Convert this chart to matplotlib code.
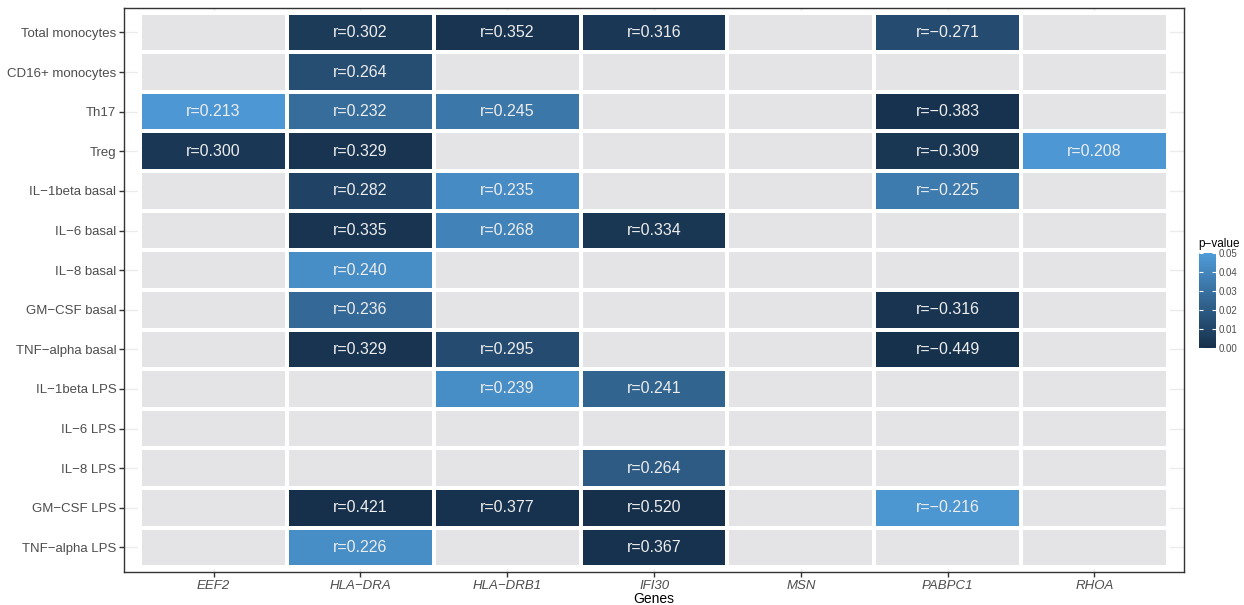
import numpy as np
import matplotlib.pyplot as plt
from matplotlib.colors import LinearSegmentedColormap

plt.rcParams['font.family'] = ['Liberation Sans', 'DejaVu Sans']

genes = ["EEF2", "HLA-DRA", "HLA-DRB1", "IFI30", "MSN", "PABPC1", "RHOA"]
cells = ["Total monocytes", "CD16+ monocytes", "Th17", "Treg", "IL-1beta basal",
         "IL-6 basal", "IL-8 basal", "GM-CSF basal", "TNF-alpha basal",
         "IL-1beta LPS", "IL-6 LPS", "IL-8 LPS", "GM-CSF LPS", "TNF-alpha LPS"]

N = np.nan
# correlation coefficients (rows = cells, cols = genes), nan = not significant
r_values = np.array([
    [N, 0.302, 0.352, 0.316, N, -0.271, N],
    [N, 0.264, N, N, N, N, N],
    [0.213, 0.232, 0.245, N, N, -0.383, N],
    [0.300, 0.329, N, N, N, -0.309, 0.208],
    [N, 0.282, 0.235, N, N, -0.225, N],
    [N, 0.335, 0.268, 0.334, N, N, N],
    [N, 0.240, N, N, N, N, N],
    [N, 0.236, N, N, N, -0.316, N],
    [N, 0.329, 0.295, N, N, -0.449, N],
    [N, N, 0.239, 0.241, N, N, N],
    [N, N, N, N, N, N, N],
    [N, N, N, 0.264, N, N, N],
    [N, 0.421, 0.377, 0.520, N, -0.216, N],
    [N, 0.226, N, 0.367, N, N, N],
])

# p-values estimated from the fill colour
p_values = np.array([
    [N, 0.005, 0.002, 0.004, N, 0.013, N],
    [N, 0.014, N, N, N, N, N],
    [0.048, 0.028, 0.033, N, N, 0.001, N],
    [0.004, 0.002, N, N, N, 0.003, 0.048],
    [N, 0.009, 0.042, N, N, 0.034, N],
    [N, 0.002, 0.038, 0.003, N, N, N],
    [N, 0.043, N, N, N, N, N],
    [N, 0.026, N, N, N, 0.002, N],
    [N, 0.002, 0.013, N, N, 0.0005, N],
    [N, N, 0.043, 0.024, N, N, N],
    [N, N, N, N, N, N, N],
    [N, N, N, 0.020, N, N, N],
    [N, 0.0003, 0.001, 0.0001, N, 0.047, N],
    [N, 0.043, N, 0.001, N, N, N],
])

cmap = LinearSegmentedColormap.from_list("gg", ["#16304B", "#4F9CDA"])
cmap.set_bad("#E4E4E6")

fig = plt.figure(figsize=(12.44, 6.05), dpi=100)
ax = fig.add_axes([0.0997, 0.0545, 0.8521, 0.9325])

x = np.arange(len(genes) + 1) + 0.5
y = np.arange(len(cells) + 1) + 0.5
mesh = ax.pcolormesh(x, y, np.ma.masked_invalid(p_values), cmap=cmap, vmin=0, vmax=0.05,
                     edgecolors="white", linewidth=1.6, zorder=2)

for i in range(len(cells)):
    for j in range(len(genes)):
        if not np.isnan(r_values[i, j]):
            txt = "r=%.3f" % r_values[i, j]
            txt = txt.replace("-", "\u2212")
            ax.text(j + 1, i + 1, txt, ha="center", va="center", color="#EDEDED",
                    fontsize=11.5, zorder=3)

ax.set_xlim(0.39, len(genes) + 0.61)
ax.set_ylim(len(cells) + 0.62, 0.38)
ax.set_xticks(np.arange(1, len(genes) + 1))
ax.set_xticklabels([g.replace("-", "\u2212") for g in genes], style="italic")
ax.set_yticks(np.arange(1, len(cells) + 1))
ax.set_yticklabels([c.replace("-", "\u2212") for c in cells])
ax.tick_params(colors="#333333", labelcolor="#4D4D4D", labelsize=9.5, length=3.5,
               width=1, pad=2)
ax.grid(True, color="#EBEBEB", linewidth=1, zorder=0)
ax.set_axisbelow(True)
for s in ax.spines.values():
    s.set_color("#333333")
    s.set_linewidth(1)
ax.set_xlabel("Genes", fontsize=10, labelpad=0)

cax = fig.add_axes([0.9635, 0.425, 0.0137, 0.157])
cb = fig.colorbar(mesh, cax=cax, ticks=[0, 0.01, 0.02, 0.03, 0.04, 0.05])
cb.ax.set_yticklabels(["0.00", "0.01", "0.02", "0.03", "0.04", "0.05"])
cb.outline.set_visible(False)
cax.tick_params(direction="in", color="white", left=True, right=True, length=3,
                labelsize=7, labelcolor="#4D4D4D", width=0.8, pad=2)
cax.set_title("p\u2212value", fontsize=8.5, loc="left", pad=4)

fig.savefig("out.png", dpi=100)
